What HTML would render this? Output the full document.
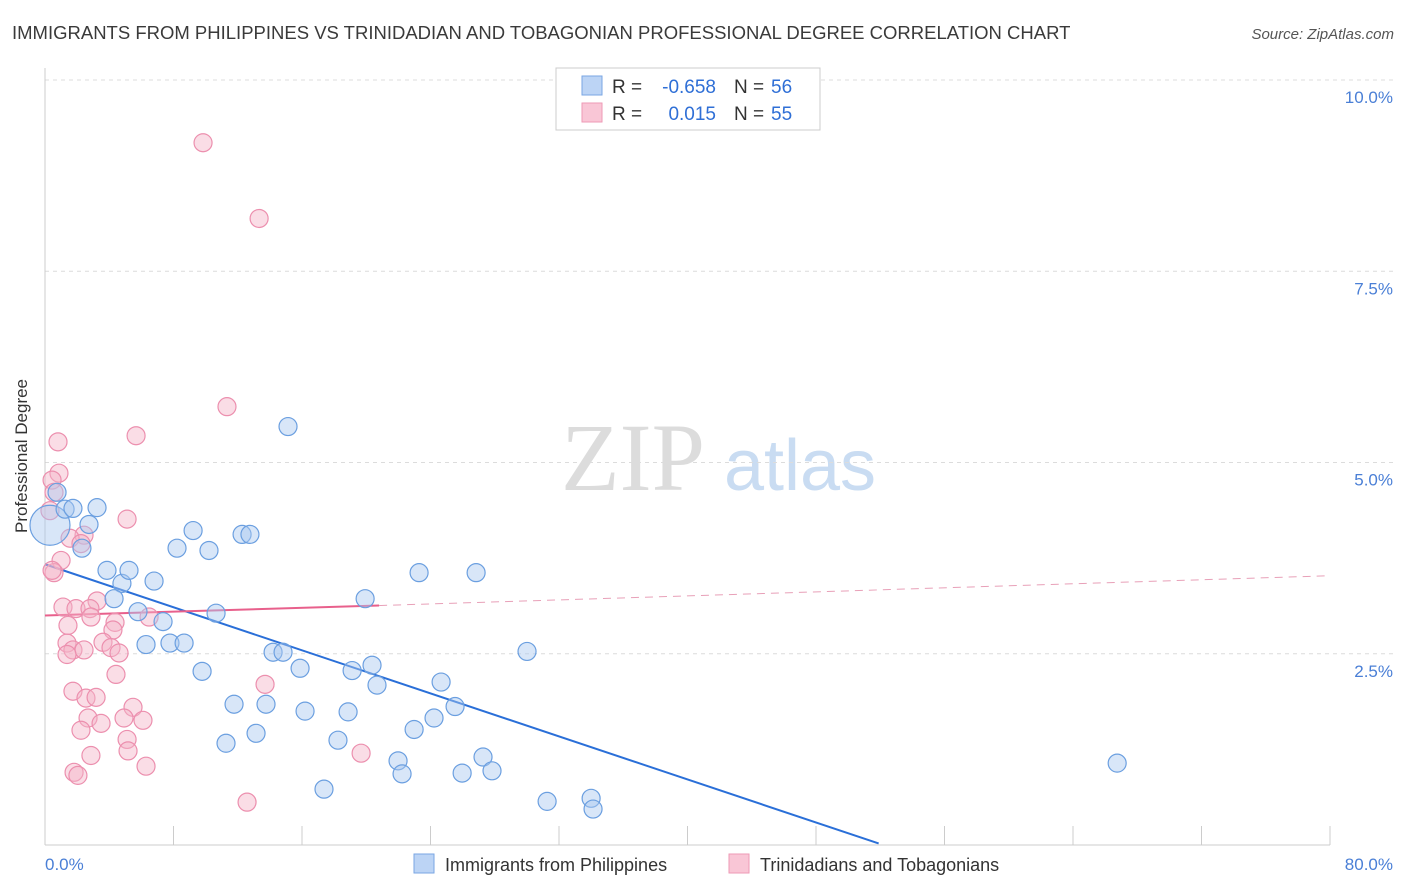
<!DOCTYPE html>
<html><head><meta charset="utf-8"><style>
body{margin:0;background:#fff;font-family:"Liberation Sans",sans-serif;}
svg{display:block}
</style></head><body>
<svg id="chart" width="1406" height="892">
<text x="12" y="39" font-size="18.5" fill="#3a3a3a">IMMIGRANTS FROM PHILIPPINES VS TRINIDADIAN AND TOBAGONIAN PROFESSIONAL DEGREE CORRELATION CHART</text>
<text x="1394" y="39" font-size="15" fill="#555" font-style="italic" text-anchor="end">Source: ZipAtlas.com</text>
<g>
<text x="633" y="490" font-size="96" fill="#dcdcdc" font-family="Liberation Serif,serif" text-anchor="middle">ZIP</text>
<text x="800" y="490" font-size="72" fill="#c9dcf2" text-anchor="middle">atlas</text>
</g>
<g id="grid"></g><g id="axes"></g><g id="lines"></g><g id="pts"></g>
<text x="27" y="456" font-size="17" fill="#333" text-anchor="middle" transform="rotate(-90 27 456)">Professional Degree</text>
<text x="45" y="870" font-size="17" fill="#4a7fd6">0.0%</text>
<text x="1393" y="870" font-size="17" fill="#4a7fd6" text-anchor="end">80.0%</text>
<g>
<rect x="556" y="68" width="264" height="62" fill="#fff" stroke="#ccc"/>
<rect x="582" y="76" width="20" height="19" fill="#bcd4f5" stroke="#7aa6e3"/>
<rect x="582" y="103" width="20" height="19" fill="#f9c6d6" stroke="#ee9ab6"/>
<text x="612" y="93" font-size="19" fill="#333">R =</text>
<text x="716" y="93" font-size="19" fill="#2f6fd6" text-anchor="end">-0.658</text>
<text x="734" y="93" font-size="19" fill="#333">N =</text>
<text x="771" y="93" font-size="19" fill="#2f6fd6">56</text>
<text x="612" y="120" font-size="19" fill="#333">R =</text>
<text x="716" y="120" font-size="19" fill="#2f6fd6" text-anchor="end">0.015</text>
<text x="734" y="120" font-size="19" fill="#333">N =</text>
<text x="771" y="120" font-size="19" fill="#2f6fd6">55</text>
</g>
<g>
<rect x="414" y="854" width="20" height="19" fill="#bcd4f5" stroke="#7aa6e3"/>
<text x="445" y="871" font-size="18" fill="#333">Immigrants from Philippines</text>
<rect x="729" y="854" width="20" height="19" fill="#f9c6d6" stroke="#ee9ab6"/>
<text x="760" y="871" font-size="18" fill="#333">Trinidadians and Tobagonians</text>
</g>
</svg>
<script>
const yTicks=[2.5,5,7.5,10];
const yTickLabels=["2.5%","5.0%","7.5%","10.0%"];
const xTicks=[0,8,16,24,32,40,48,56,64,72,80];
const blueX=[0.31,0.75,1.25,1.74,2.74,3.24,2.30,3.86,4.79,5.23,4.30,6.79,5.79,7.35,6.29,7.78,8.66,8.22,9.22,10.21,10.65,12.27,12.76,9.78,11.27,11.77,13.14,13.76,14.20,14.82,15.13,15.88,16.19,17.37,18.24,18.87,19.12,20.36,20.67,19.93,21.98,22.23,22.98,23.29,24.22,24.66,25.53,25.97,26.84,27.27,27.83,30.01,31.26,34.00,34.12,66.75];
const blueY=[4.18,4.61,4.39,4.40,4.19,4.41,3.88,3.59,3.42,3.59,3.22,3.45,3.05,2.92,2.62,2.64,2.64,3.88,4.11,3.85,3.03,4.06,4.06,2.27,1.33,1.84,1.46,1.84,2.52,2.52,5.47,2.31,1.75,0.73,1.37,1.74,2.28,2.35,2.09,3.22,1.10,0.93,1.51,3.56,1.66,2.13,1.81,0.94,3.56,1.15,0.97,2.53,0.57,0.61,0.47,1.07];
const pinkX=[9.84,13.33,11.33,5.67,0.81,0.87,0.44,0.56,0.31,5.11,2.43,1.56,2.24,1.00,0.56,1.12,1.93,3.24,2.80,1.43,2.86,4.36,4.23,6.48,1.37,3.61,1.74,2.43,4.11,1.37,4.61,4.42,1.74,2.55,3.18,13.70,5.48,4.92,6.10,2.68,3.49,2.24,2.86,5.11,5.17,6.29,1.81,2.05,19.68,12.58,0.44];
const pinkY=[9.18,8.19,5.73,5.35,5.27,4.86,4.77,4.61,4.37,4.26,4.05,4.01,3.94,3.72,3.56,3.11,3.09,3.19,3.09,2.87,2.98,2.91,2.81,2.98,2.64,2.65,2.55,2.55,2.58,2.49,2.51,2.23,2.01,1.92,1.93,2.10,1.80,1.66,1.63,1.66,1.59,1.50,1.17,1.38,1.23,1.03,0.95,0.91,1.20,0.56,3.59];
const blueTrend=[0,3.67,51.9,0.02];
const pinkTrend=[0,3.0,20.8,3.13,80,3.52];
const NS="http://www.w3.org/2000/svg";
const X0=45,X1=1330,Y0=845,YT=80;
const sx=v=>X0+v/80*(X1-X0);
const sy=v=>Y0-v/10*(Y0-YT);
function mk(t,a,p){const e=document.createElementNS(NS,t);for(const k in a)e.setAttribute(k,a[k]);document.getElementById(p).appendChild(e);return e;}
yTicks.forEach((t,i)=>{
 const g=mk('line',{x1:X0,x2:1393,y1:sy(t),y2:sy(t),stroke:'#dcdcdc','stroke-dasharray':'4,4'},'grid');
 
 
 const l=mk('text',{x:1393,y:sy(t)+23,'font-size':17,fill:'#4a7fd6','text-anchor':'end'},'grid');
 l.textContent=yTickLabels[i];
 
 
});
let ax=mk('line',{x1:X0,x2:X0,y1:68,y2:Y0,stroke:'#ccc'},'axes');


ax=mk('line',{x1:X0,x2:X1,y1:Y0,y2:Y0,stroke:'#ccc'},'axes');


xTicks.forEach(t=>{
 const e=mk('line',{x1:sx(t),x2:sx(t),y1:826,y2:Y0,stroke:'#ccc'},'axes');
 
 
});
function dots(xs,ys,fill,stroke,name){xs.forEach((x,i)=>{
 const r=(i===0&&name==='blue-point')?20:9;
 const c=mk('circle',{cx:sx(x),cy:sy(ys[i]),r:r,fill:fill,'fill-opacity':0.45,stroke:stroke,'stroke-width':1.2},'pts');
 
 
});}
dots(pinkX,pinkY,'#f5b3c8','#ec8fae','pink-point');
dots(blueX,blueY,'#a9c8f0','#6b9fe0','blue-point');
let ln=mk('line',{x1:sx(blueTrend[0]),y1:sy(blueTrend[1]),x2:sx(blueTrend[2]),y2:sy(blueTrend[3]),stroke:'#2a6fd8','stroke-width':2},'lines');


ln=mk('line',{x1:sx(pinkTrend[0]),y1:sy(pinkTrend[1]),x2:sx(pinkTrend[2]),y2:sy(pinkTrend[3]),stroke:'#e8608c','stroke-width':2},'lines');


ln=mk('line',{x1:sx(pinkTrend[2]),y1:sy(pinkTrend[3]),x2:sx(pinkTrend[4]),y2:sy(pinkTrend[5]),stroke:'#e8a0b8','stroke-width':1,'stroke-dasharray':'8,6'},'lines');


</script>
</body></html>
